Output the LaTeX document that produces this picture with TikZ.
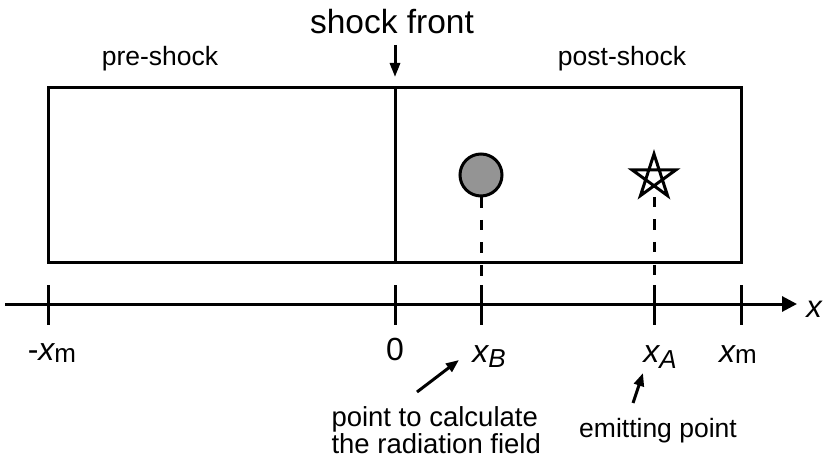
\documentclass[tikz,border=0pt]{standalone}
\usepackage{fontspec}
\setmainfont{Liberation Sans}
\usetikzlibrary{arrows.meta}
\begin{document}
\begin{tikzpicture}[x=1pt,y=-1pt,line width=3pt,
  txt/.style={anchor=base,inner sep=0pt},
  small/.style={txt,font=\fontsize{26.5}{27}\selectfont},
  axl/.style={txt,font=\fontsize{32}{32}\selectfont},
  tickline/.style={line width=3pt},
  ptr/.style={-{Triangle[length=13pt,width=10pt]}},
  dsh/.style={dash pattern=on 10.5pt off 12pt}]
\useasboundingbox (0,0) rectangle (830,465);
% box
\coordinate (bTL) at (48,88);
\coordinate (bBR) at (741,262);
\coordinate (dT) at (395,88);
\coordinate (dB) at (395,262);
\draw (bTL) rectangle (bBR);
\draw (dT) -- (dB);
% titles
\node[txt,font=\fontsize{33.5}{34}\selectfont] (sf) at (392,34) {shock front};
\coordinate (sfa) at (395,45);
\coordinate (sfb) at (395,77);
\draw[-{Triangle[length=14pt,width=10pt]}] (sfa) -- (sfb);
\node[small] (pre) at (160,66) {pre-shock};
\node[small] (post) at (622,66) {post-shock};
% axis
\coordinate (axL) at (5,304);
\coordinate (axR) at (797,304);
\draw[-{Triangle[length=15pt,width=15pt]}] (axL) -- (axR);
\node[txt,font=\fontsize{31}{31}\selectfont\itshape] (xl) at (814,317) {x};
% ticks
\foreach \n/\x in {tL/48,t0/395,tB/481,tA/654,tR/741}{
  \coordinate (\n u) at (\x,285);
  \coordinate (\n d) at (\x,325);
  \draw[tickline] (\n u) -- (\n d);
}
% circle and star
\node[circle,draw,fill=black!42,minimum size=42pt,inner sep=0pt] (circ) at (481,175) {};
\draw[dsh] (circ.south) -- (tBu);
\coordinate (star) at (654,177);
\draw[line join=miter] (star) +(270:23) -- +(54:23) -- +(198:23) -- +(342:23) -- +(126:23) -- cycle;
\coordinate (starb) at (654,197);
\draw[dsh] (starb) -- (tAu);
% labels
\node[axl] (lmL) at (52,360) {-{\itshape x}\raisebox{-2pt}{\fontsize{26}{26}\selectfont m}};
\node[axl] (l0) at (395,360) {0};
\node[axl] (lB) at (489,362) {{\itshape x}\raisebox{-5pt}{\fontsize{26}{26}\selectfont\itshape B}};
\node[axl] (lA) at (660,362) {{\itshape x}\raisebox{-6pt}{\fontsize{26}{26}\selectfont\itshape A}};
\node[axl] (lmR) at (738,362) {{\itshape x}\raisebox{-1pt}{\fontsize{26}{26}\selectfont m}};
% annotations
\node[txt,anchor=base west,font=\fontsize{27.5}{27}\selectfont] (pc1) at (330,426) {point to calculate};
\node[txt,anchor=base west,font=\fontsize{27.5}{27}\selectfont] (pc2) at (330,453) {the radiation field};
\coordinate (p1a) at (417,392);
\coordinate (p1b) at (459,360);
\draw[ptr] (p1a) -- (p1b);
\node[small] (em) at (658,437) {emitting point};
\coordinate (p2a) at (633,403);
\coordinate (p2b) at (643,373);
\draw[ptr] (p2a) -- (p2b);
\end{tikzpicture}
\end{document}
